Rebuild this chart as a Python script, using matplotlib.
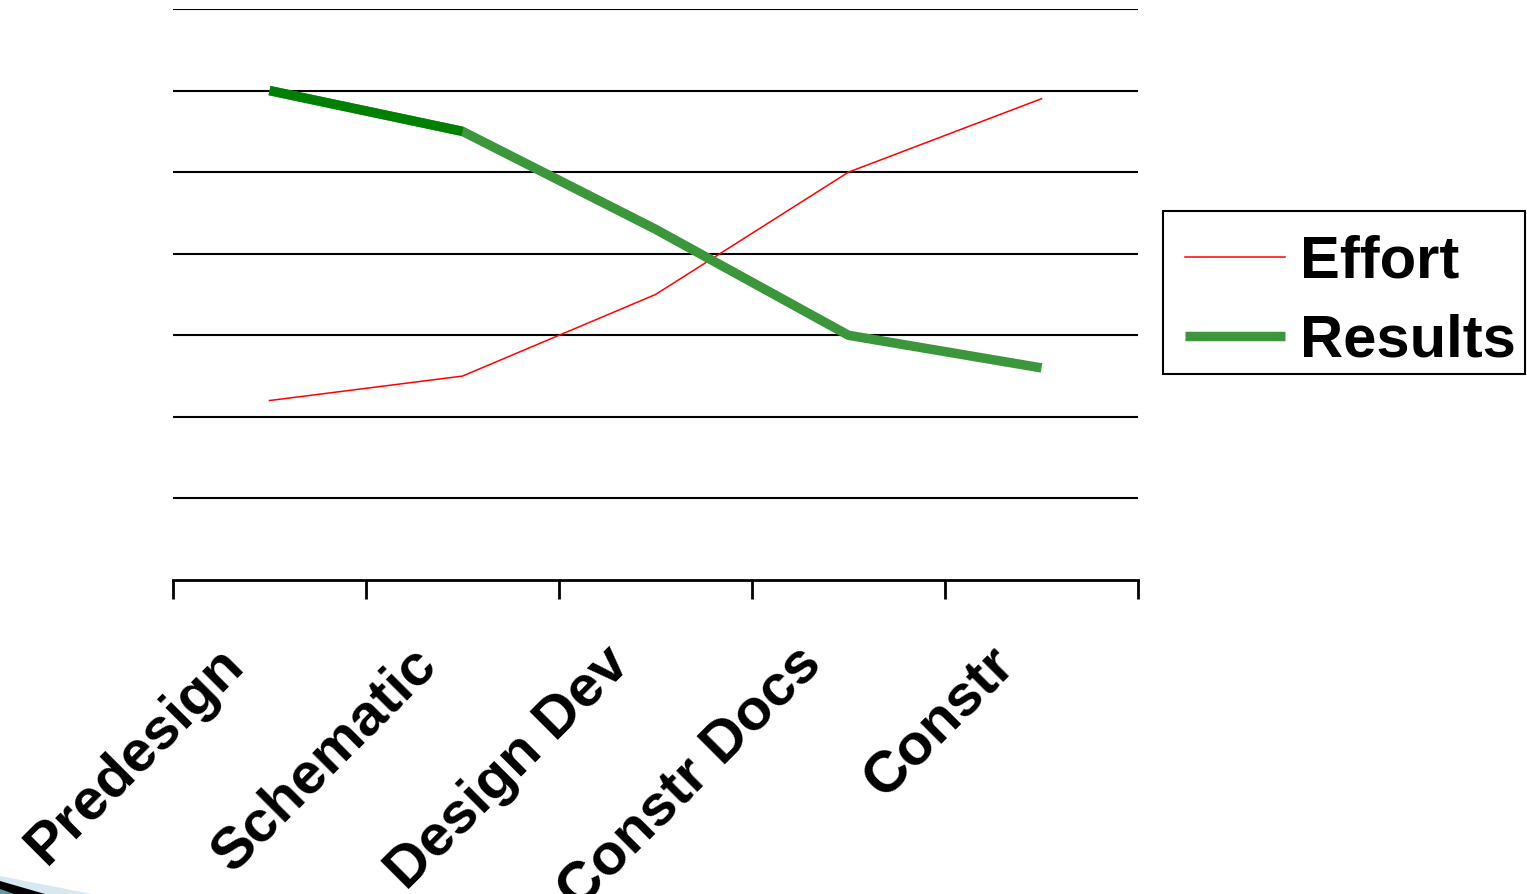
import matplotlib

matplotlib.use("Agg")
import matplotlib.pyplot as plt
import matplotlib.transforms as mtransforms
from matplotlib.patches import Polygon, Rectangle
import numpy as np


PHASES = ["Predesign", "Schematic", "Design Dev", "Constr Docs", "Constr"]
EFFORT = [2.2, 2.5, 3.5, 5.0, 5.9]
RESULTS = [6.0, 5.5, 4.3, 3.0, 2.6]

W, H, DPI = 1527, 894, 100

plt.rcParams.update(
    {
        "font.family": ["Liberation Sans", "DejaVu Sans"],
        "font.weight": "bold",
    }
)

fig = plt.figure(figsize=(W / DPI, H / DPI), dpi=DPI)
ax = fig.add_axes([173 / W, 1 - 580 / H, (1138 - 173) / W, (580 - 9) / H])

x = np.arange(1, len(PHASES) + 1)
ax.set_xlim(0.5, len(PHASES) + 0.5)
ax.set_ylim(0, 7)

# horizontal gridlines, no y labels
ax.set_yticks(np.arange(1, 8))
ax.set_yticklabels([])
ax.tick_params(axis="y", length=0)
ax.grid(axis="y", color="black", linewidth=1.5)
ax.set_axisbelow(True)
for side in ("left", "right", "top"):
    ax.spines[side].set_visible(False)
ax.spines["bottom"].set_linewidth(2)

# category boundary ticks, labels on minor ticks
ax.set_xticks(np.arange(0.5, len(PHASES) + 1, 1.0))
ax.set_xticklabels([])
ax.tick_params(axis="x", which="major", direction="out", length=14, width=2)
ax.set_xticks(x, minor=True)
ax.set_xticklabels(
    PHASES, minor=True, rotation=45, ha="right", va="top",
    rotation_mode="anchor", fontsize=42, fontweight="bold",
)
ax.tick_params(axis="x", which="minor", length=0, pad=41)
shift = mtransforms.ScaledTranslation(-0.54, 0, fig.dpi_scale_trans)
for lab in ax.get_xticklabels(minor=True):
    lab.set_transform(lab.get_transform() + shift)

ax.plot(x, EFFORT, color="#ff0000", linewidth=1.1, label="Effort", clip_on=False)
ax.plot(x, RESULTS, color="#3c963c", linewidth=6.8, solid_capstyle="butt",
        label="Results", clip_on=False)
ax.plot(x[:2], RESULTS[:2], color="#008000", linewidth=6.8, solid_capstyle="butt",
        clip_on=False)

leg = fig.legend(
    loc="upper left",
    bbox_to_anchor=(1167 / W, 1 - 217 / H),
    borderaxespad=0,
    prop={"weight": "bold", "size": 43},
    frameon=False,
    handlelength=1.68,
    handletextpad=0.25,
    borderpad=0.3,
    labelspacing=0.4,
)
# legend frame drawn separately so its padding matches the reference
fig.add_artist(Rectangle((1163 / W, 1 - 374 / H), (1525 - 1163) / W, (374 - 211) / H,
                         transform=fig.transFigure, fill=False,
                         edgecolor="black", linewidth=1.5))

# decorative swoosh in the lower left corner
fig.patches.append(Polygon([(0, 1 - 876 / H), (92 / W, 0), (0, 0)],
                           closed=True, transform=fig.transFigure,
                           facecolor="#d6e9f0", edgecolor="none"))
fig.patches.append(Polygon([(0, 1 - 881 / H), (45 / W, 0), (0, 0)],
                           closed=True, transform=fig.transFigure,
                           facecolor="black", edgecolor="none"))
fig.patches.append(Polygon([(0, 1 - 889 / H), (14 / W, 0), (0, 0)],
                           closed=True, transform=fig.transFigure,
                           facecolor="#5a9aa8", edgecolor="none"))

fig.savefig("out.png", dpi=DPI)
